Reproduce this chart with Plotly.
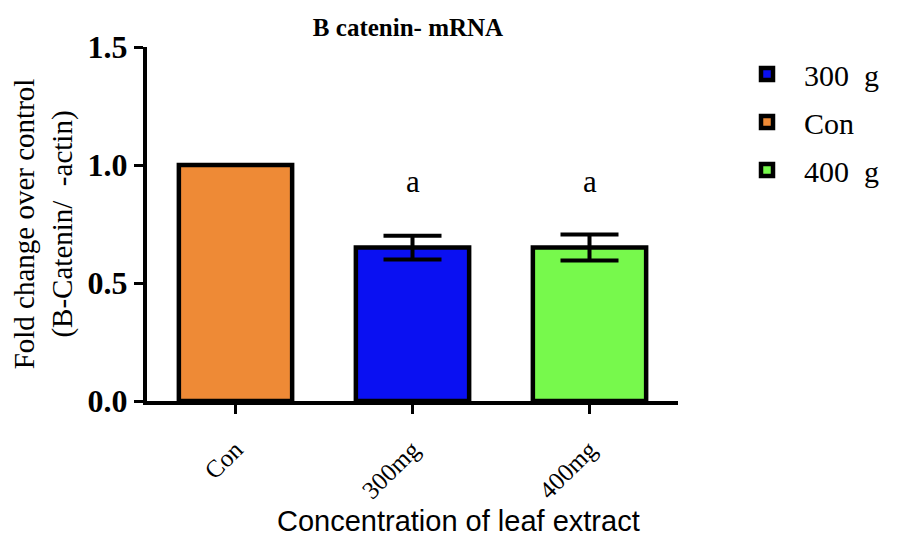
import plotly.graph_objects as go

categories = ["Con", "300mg", "400mg"]
legend_names = ["Con", "300  g", "400  g"]
means = [1.0, 0.65, 0.65]
errors = [0.0, 0.05, 0.055]
colors = ["#EE8A36", "#0A10F2", "#77F94C"]
sig_labels = ["", "a", "a"]
sig_y = [None, 0.93, 0.93]
legend_order = [1, 0, 2]

SERIF = "Liberation Serif, Times New Roman, serif"
SANS = "Liberation Sans, Arial, sans-serif"

fig = go.Figure()
for i in legend_order:
    fig.add_trace(go.Bar(
        x=[categories[i]], y=[means[i]], name=legend_names[i],
        legendgroup=legend_names[i],
        marker=dict(color=colors[i], line=dict(color="black", width=4.5)),
        width=0.64,
        error_y=dict(type="data", array=[errors[i]], visible=errors[i] > 0,
                     color="black", thickness=4, width=29),
    ))

for i, lab in enumerate(sig_labels):
    if lab:
        fig.add_annotation(x=categories[i], y=sig_y[i], text=lab, showarrow=False,
                           font=dict(family=SERIF, size=31, color="black"))

fig.add_annotation(text="Concentration of leaf extract", xref="paper", yref="paper",
                   x=(455 - 139) / 539, y=(401 - 521) / 354, xanchor="center", yanchor="middle",
                   showarrow=False, font=dict(family=SANS, size=29, color="black"))

fig.update_layout(
    width=899, height=536,
    margin=dict(l=131, r=229, t=39, b=143),
    paper_bgcolor="white", plot_bgcolor="white",
    barmode="overlay",
    title=dict(text="<b>B catenin- mRNA</b>", x=400 / 899, xanchor="center",
               y=1 - 19 / 536, yanchor="middle",
               font=dict(family=SERIF, size=25, color="black")),
    legend=dict(xref="container", yref="container", x=722 / 899, y=1 - 40 / 536,
                xanchor="left", yanchor="top",
                font=dict(family=SERIF, size=30, color="black"),
                tracegroupgap=6, traceorder="grouped", itemwidth=64,
                bgcolor="rgba(0,0,0,0)"),
    showlegend=True,
)
fig.update_xaxes(
    categoryorder="array", categoryarray=categories, range=[-0.5, 2.5],
    showline=True, linecolor="black", linewidth=4,
    ticks="outside", ticklen=9, tickwidth=3, tickcolor="black",
    tickangle=-45, ticklabelstandoff=11,
    tickfont=dict(family=SERIF, size=25, color="black"),
    showgrid=False, zeroline=False,
)
fig.update_yaxes(
    range=[0, 1.5], tickvals=[0, 0.5, 1.0, 1.5], ticktext=["<b>0.0</b>", "<b>0.5</b>", "<b>1.0</b>", "<b>1.5</b>"],
    showline=True, linecolor="black", linewidth=4,
    ticks="outside", ticklen=9, tickwidth=3, tickcolor="black",
    tickfont=dict(family=SERIF, size=32, color="black"),
    title=dict(text="Fold change over control<br>(B-Catenin/  -actin)", standoff=10,
               font=dict(family=SERIF, size=29, color="black")),
    showgrid=False, zeroline=False,
)

fig.write_html("out.html")
